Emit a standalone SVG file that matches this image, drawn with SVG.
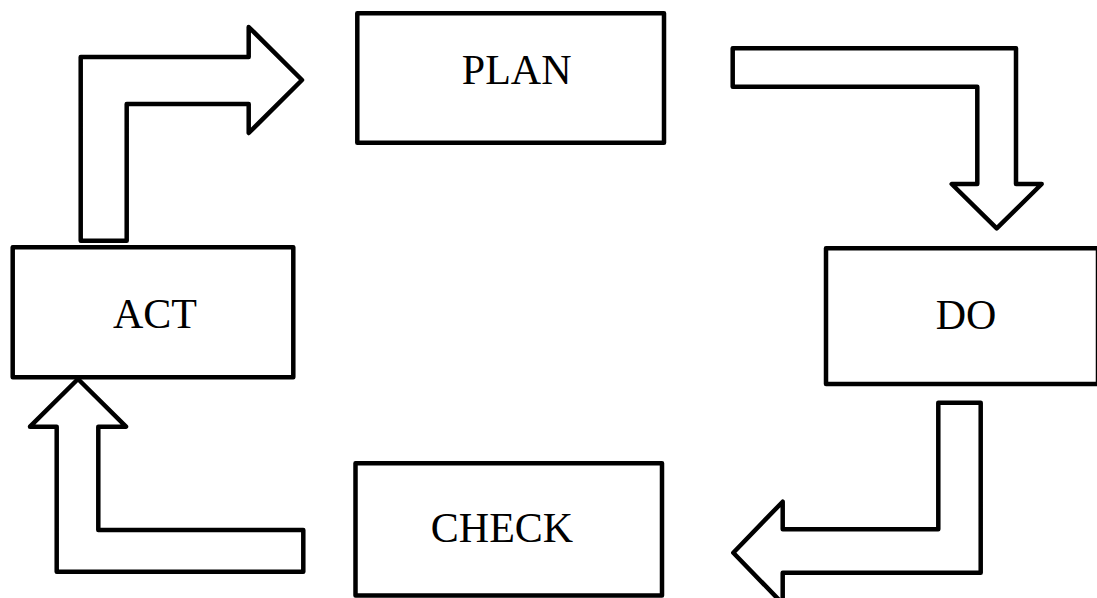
<svg xmlns="http://www.w3.org/2000/svg" width="1097" height="598" viewBox="0 0 1097 598">
<style>
.box{fill:#fff;stroke:#000;stroke-width:4.5;stroke-linejoin:round}
.arrow{fill:#fff;stroke:#000;stroke-width:4.5;stroke-linejoin:round}
.lbl{font-family:"Liberation Serif","Times New Roman",serif;font-size:42px;fill:#000;text-anchor:middle}
</style>
<rect width="1097" height="598" fill="#fff"/>
<g id="connectors">
<polygon class="arrow" points="80.7,240.7 80.7,57 248.7,57 248.7,27 302,80 248.7,133 248.7,104 126.7,104 126.7,240.7"/>
<polygon class="arrow" points="732.7,48.3 1016,48.3 1016,184 1041.7,184 996.7,228.3 951.7,184 977.3,184 977.3,86.7 732.7,86.7"/>
<polygon class="arrow" points="938.3,402.7 980.7,402.7 980.7,572.7 782.7,572.7 782.7,603.7 733.3,552.7 782.7,501.7 782.7,529.3 938.3,529.3"/>
<polygon class="arrow" points="303.3,571.7 56.7,571.7 56.7,426.7 30,426.7 78,379 126,426.7 98.3,426.7 98.3,530 303.3,530"/>
</g>
<g id="plan">
<rect class="box" x="357.3" y="13.3" width="306.7" height="129.4"/>
<text class="lbl" x="516.7" y="83.5">PLAN</text>
</g>
<g id="do">
<rect class="box" x="826" y="248.3" width="272" height="135.7"/>
<text class="lbl" x="966" y="329">DO</text>
</g>
<g id="check">
<rect class="box" x="355.5" y="463.3" width="306.5" height="132.2"/>
<text class="lbl" x="502" y="541.5">CHECK</text>
</g>
<g id="act">
<rect class="box" x="12.7" y="247.3" width="280.6" height="130"/>
<text class="lbl" x="155" y="328">ACT</text>
</g>
</svg>
